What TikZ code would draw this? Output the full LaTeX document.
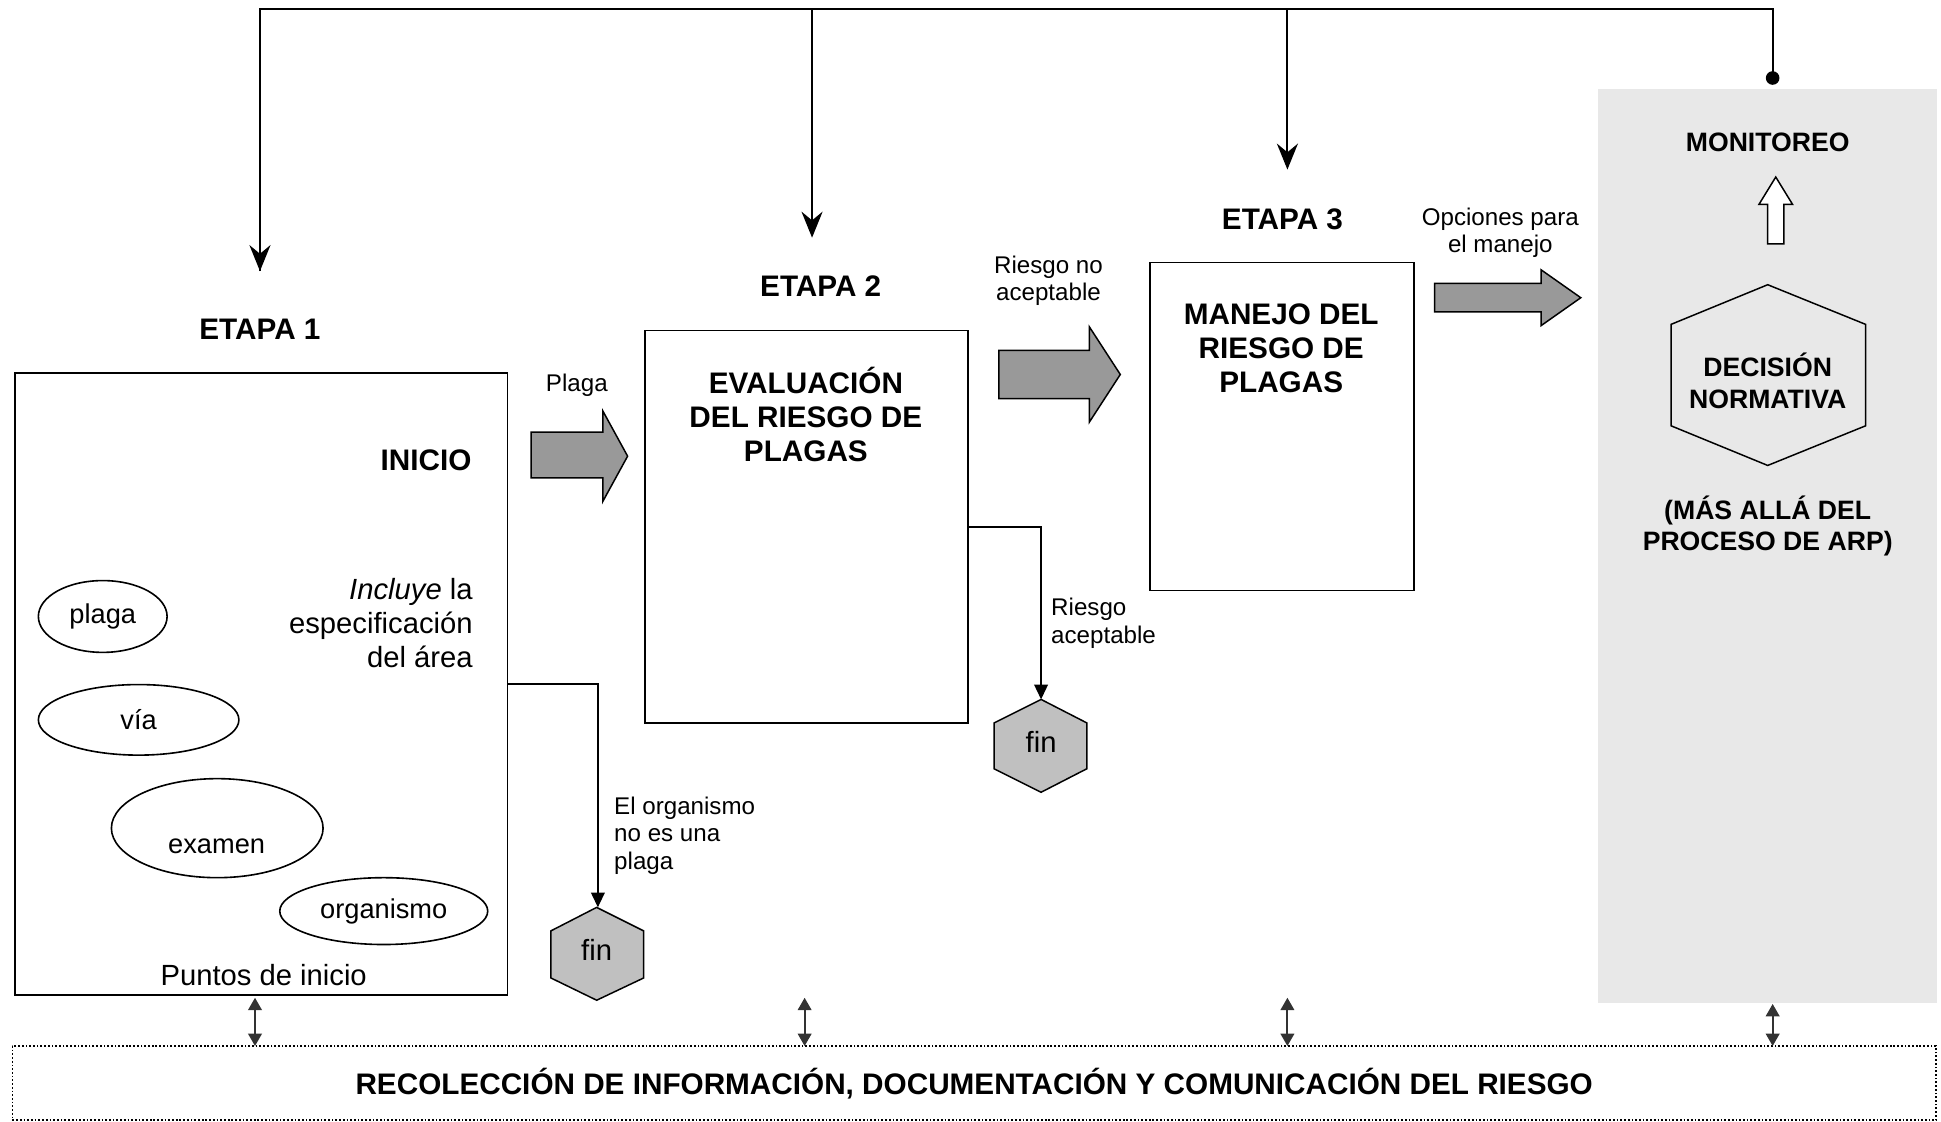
\documentclass[tikz,border=0pt]{standalone}
\usepackage{fontspec}
\setmainfont{Liberation Sans}
\usetikzlibrary{arrows.meta,calc,shapes.geometric}
\definecolor{arrowgray}{HTML}{999999}
\definecolor{fingray}{HTML}{C0C0C0}
\definecolor{panelgray}{HTML}{E8E8E8}
\definecolor{dblgray}{HTML}{333333}
\begin{document}
\begin{tikzpicture}[x=1pt,y=-1pt,
  box/.style={draw, line width=1.5pt, inner sep=0pt},
  panel/.style={fill=panelgray, draw=none, inner sep=0pt},
  infobox/.style={draw, line width=1.4pt, dash pattern=on 1.4pt off 1.6pt, inner sep=0pt,
    font=\fontsize{24}{28}\selectfont\bfseries},
  hd/.style={font=\fontsize{24}{27.5}\selectfont\bfseries, align=center, inner sep=0pt},
  pn/.style={font=\fontsize{21.5}{25.5}\selectfont\bfseries, align=center, inner sep=0pt},
  txt/.style={font=\fontsize{23.6}{27.5}\selectfont, align=center, inner sep=0pt},
  etxt/.style={font=\fontsize{22}{26}\selectfont, inner sep=0pt},
  lbl/.style={font=\fontsize{19.5}{22}\selectfont, align=center, inner sep=0pt},
  ell/.style={draw, ellipse, line width=1.3pt, inner sep=0pt, font=\fontsize{22}{26}\selectfont},
  conn/.style={line width=1.7pt},
  downarrow/.style={conn, -{Stealth[length=21pt,width=17pt,inset=7pt]}},
  finarrow/.style={line width=1.6pt, -{Triangle[length=12pt,width=11pt]}},
  dbl/.style={draw=dblgray, line width=1.6pt, {Triangle[length=10pt,width=11pt]}-{Triangle[length=10pt,width=11pt]}},
  blockarrow/.style={fill=arrowgray, draw, line width=1.2pt, line join=miter},
  hollowarrow/.style={fill=white, draw, line width=1.2pt},
  finhex/.style={fill=fingray, draw, line width=1.2pt},
  dechex/.style={draw, line width=1.2pt},
]
\useasboundingbox (0,0) rectangle (1568,906);

% background panel
\node[panel, minimum width=274, minimum height=738] (panel) at (1428,441) {};

% boxes
\node[box, minimum width=398, minimum height=503] (b1) at (211,552.5) {};
\node[box, minimum width=261, minimum height=317] (b2) at (651.5,425.5) {};
\node[box, minimum width=213, minimum height=265] (b3) at (1035.5,344.5) {};
\node[infobox, minimum width=1554, minimum height=60] (info) at (787,875)
  {RECOLECCIÓN DE INFORMACIÓN, DOCUMENTACIÓN Y COMUNICACIÓN DEL RIESGO};

% top connector
\coordinate (t1) at (210,7);
\coordinate (t2) at (656,7);
\coordinate (t3) at (1040,7);
\coordinate (t4) at (1432,7);
\coordinate (a1) at (210,219);
\coordinate (a2) at (656,192);
\coordinate (a3) at (1040,137);
\coordinate (dot) at (1432,63);
\draw[conn, line join=miter] (a1) -- (t1) -- (t4) -- (dot);
\draw[downarrow] (t1) -- (a1);
\draw[downarrow] (t2) -- (a2);
\draw[downarrow] (t3) -- (a3);
\fill (dot) circle (5.5);

% headings
\node[hd] (e1) at (210,266) {ETAPA 1};
\node[hd] (e2) at (663,231) {ETAPA 2};
\node[hd] (e3) at (1036,177) {ETAPA 3};
\node[hd, anchor=east] (inicio) at (381,372) {INICIO};
\node[txt, align=right, anchor=east] (incl) at (382,503) {\textit{Incluye} la\\especificación\\del área};
\node[txt] (puntos) at (213,788) {Puntos de inicio};
\node[hd] (eval) at (651,334.5) {EVALUACIÓN\\DEL RIESGO DE\\PLAGAS};
\node[hd] (manejo) at (1035,281.5) {MANEJO DEL\\RIESGO DE\\PLAGAS};

% ellipses
\node[ell, minimum width=104, minimum height=58] (el1) at (83,498) {plaga};
\node[ell, minimum width=162, minimum height=57] (el2) at (112,581.5) {vía};
\node[ell, minimum width=171, minimum height=80] (el3) at (175.5,669) {};
\node[etxt] (el3t) at (175,684) {examen};
\node[ell, minimum width=168, minimum height=54] (el4) at (310,736) {organismo};

% labels
\node[lbl] (plaga) at (466,311) {Plaga};
\node[lbl] (rna) at (847,227) {Riesgo no\\aceptable};
\node[lbl, align=left, anchor=west] (ra) at (849,503.5) {Riesgo\\aceptable};
\node[lbl, align=left, anchor=west] (org) at (496,675) {El organismo\\no es una\\plaga};
\node[lbl] (opc) at (1212,188) {Opciones para\\el manejo};

% block arrows
\path[blockarrow] (429,349) -- (487,349) -- (487,332) -- (507,368.5) -- (487,405) -- (487,386) -- (429,386) -- cycle;
\path[blockarrow] (807,283) -- (880,283) -- (880,264) -- (905,302.5) -- (880,341) -- (880,322) -- (807,322) -- cycle;
\path[blockarrow] (1159,229) -- (1245,229) -- (1245,218) -- (1277,240.5) -- (1245,263) -- (1245,252) -- (1159,252) -- cycle;

% fin hexagons
\path[finhex] (482,733) -- (520,752) -- (520,790) -- (482,808) -- (445,790) -- (445,752) -- cycle;
\node[txt] (fin1) at (482,767) {fin};
\path[finhex] (841,565) -- (878,584) -- (878,621) -- (841,640) -- (803,621) -- (803,584) -- cycle;
\node[txt] (fin2) at (841,599) {fin};
\coordinate (f1top) at (483,733);
\coordinate (f2top) at (841,565);
\draw[finarrow] (b1.east) -| (f1top);
\draw[finarrow] (b2.east) -| (f2top);

% panel content
\node[pn] (mon) at (1428,115) {MONITOREO};
\path[hollowarrow] (1428,197) -- (1428,165) -- (1421,165) -- (1434.5,143) -- (1448,165) -- (1441,165) -- (1441,197) -- cycle;
\draw[dechex] (1428,230) -- (1507,262) -- (1507,344) -- (1428,376) -- (1350,344) -- (1350,262) -- cycle;
\node[pn] (dec) at (1428,307.5) {DECISIÓN\\NORMATIVA};
\node[pn] (mas) at (1428,425) {(MÁS ALLÁ DEL\\PROCESO DE ARP)};

% double arrows to info box
\coordinate (d1a) at (206,806); \coordinate (d1b) at (206,845);
\coordinate (d2a) at (650,806); \coordinate (d2b) at (650,845);
\coordinate (d3a) at (1040,806); \coordinate (d3b) at (1040,845);
\coordinate (d4a) at (1432,811); \coordinate (d4b) at (1432,845);
\draw[dbl] (d1a) -- (d1b);
\draw[dbl] (d2a) -- (d2b);
\draw[dbl] (d3a) -- (d3b);
\draw[dbl] (d4a) -- (d4b);
\end{tikzpicture}
\end{document}
